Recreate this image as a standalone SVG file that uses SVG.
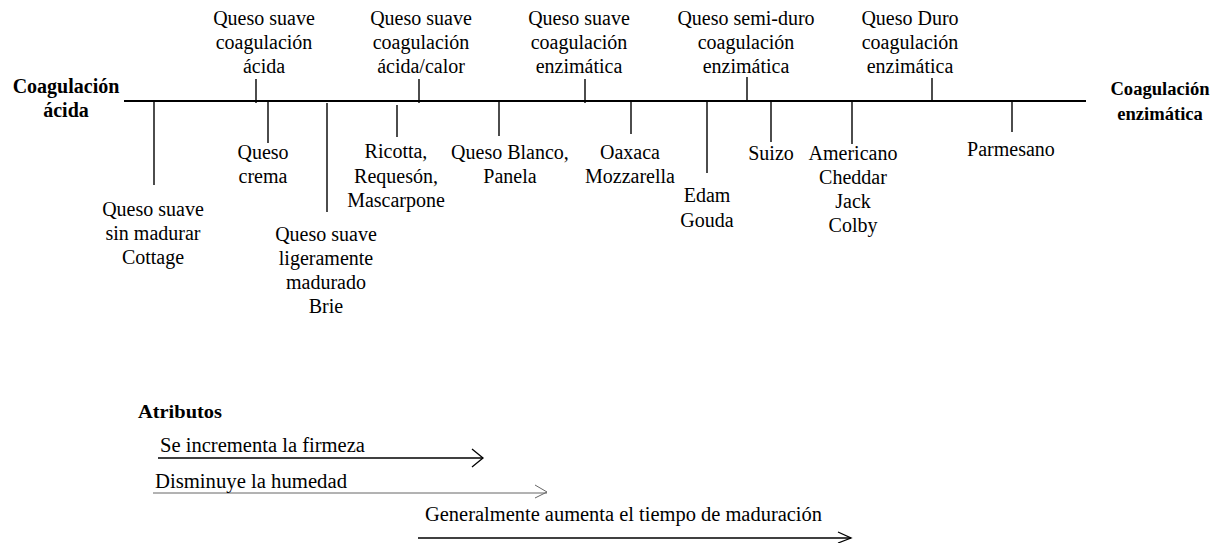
<svg xmlns="http://www.w3.org/2000/svg" width="1229" height="543" viewBox="0 0 1229 543">
<style>
  text { font-family: "Liberation Serif", "Times New Roman", serif; font-size: 20px; fill: #000; }
  .c { text-anchor: middle; }
  .b { font-weight: bold; }
  .axis { stroke: #000; stroke-width: 1.8; fill: none; }
  .tick { stroke: #000; stroke-width: 1.4; fill: none; }
  .arr { stroke: #000; stroke-width: 1.3; fill: none; }
  .arrg { stroke: #666; stroke-width: 1; fill: none; }
</style>
<rect width="1229" height="543" fill="#fff"/>
<g id="connectors">
  <line class="axis" x1="124" y1="101" x2="1086" y2="101"/>
  <line class="tick" x1="256" y1="79" x2="256" y2="103"/>
  <line class="tick" x1="419" y1="79" x2="419" y2="103"/>
  <line class="tick" x1="585" y1="79" x2="585" y2="103"/>
  <line class="tick" x1="747" y1="77" x2="747" y2="101"/>
  <line class="tick" x1="932" y1="78" x2="932" y2="101"/>
  <line class="tick" x1="154" y1="101" x2="154" y2="185"/>
  <line class="tick" x1="268" y1="101" x2="268" y2="143"/>
  <line class="tick" x1="327" y1="103" x2="327" y2="212"/>
  <line class="tick" x1="397" y1="105" x2="397" y2="137"/>
  <line class="tick" x1="499" y1="101" x2="499" y2="136"/>
  <line class="tick" x1="631" y1="101" x2="631" y2="134"/>
  <line class="tick" x1="707" y1="101" x2="707" y2="173"/>
  <line class="tick" x1="771" y1="101" x2="771" y2="142"/>
  <line class="tick" x1="852" y1="101" x2="852" y2="144"/>
  <line class="tick" x1="1012" y1="101" x2="1012" y2="132"/>
  <line class="arr" x1="158" y1="458" x2="483" y2="458"/>
  <polyline class="arr" points="472,449 483,458 472,467"/>
  <line class="arrg" x1="153" y1="493" x2="547" y2="493"/>
  <polyline class="arrg" points="535,485 547,492 535,498" stroke="#999"/>
  <line class="arr" x1="418" y1="538" x2="851" y2="538"/>
  <polyline class="arr" points="838,532 851,538 838,543"/>
</g>
<g id="left-end"><text class="c b" x="66" y="93">Coagulación</text><text class="c b" x="66" y="117">ácida</text></g>
<g id="right-end"><text class="c b" x="1160" y="95" style="font-size:18.6px">Coagulación</text><text class="c b" x="1160" y="120" style="font-size:18.6px">enzimática</text></g>
<g id="top-acida"><text class="c" x="264" y="25">Queso suave</text><text class="c" x="264" y="49">coagulación</text><text class="c" x="264" y="73">ácida</text></g>
<g id="top-acida-calor"><text class="c" x="421" y="25">Queso suave</text><text class="c" x="421" y="49">coagulación</text><text class="c" x="421" y="73">ácida/calor</text></g>
<g id="top-enzimatica"><text class="c" x="579" y="25">Queso suave</text><text class="c" x="579" y="49">coagulación</text><text class="c" x="579" y="73">enzimática</text></g>
<g id="top-semiduro"><text class="c" x="746" y="25">Queso semi-duro</text><text class="c" x="746" y="49">coagulación</text><text class="c" x="746" y="73">enzimática</text></g>
<g id="top-duro"><text class="c" x="910" y="25">Queso Duro</text><text class="c" x="910" y="49">coagulación</text><text class="c" x="910" y="73">enzimática</text></g>
<g id="cottage"><text class="c" x="153" y="216">Queso suave</text><text class="c" x="153" y="240">sin madurar</text><text class="c" x="153" y="264">Cottage</text></g>
<g id="crema"><text class="c" x="263" y="159">Queso</text><text class="c" x="263" y="183">crema</text></g>
<g id="brie"><text class="c" x="326" y="241">Queso suave</text><text class="c" x="326" y="265">ligeramente</text><text class="c" x="326" y="289">madurado</text><text class="c" x="326" y="313">Brie</text></g>
<g id="ricotta"><text class="c" x="396" y="158">Ricotta,</text><text class="c" x="396" y="183">Requesón,</text><text class="c" x="396" y="207">Mascarpone</text></g>
<g id="blanco"><text class="c" x="510" y="159">Queso Blanco,</text><text class="c" x="510" y="183">Panela</text></g>
<g id="oaxaca"><text class="c" x="630" y="159">Oaxaca</text><text class="c" x="630" y="183">Mozzarella</text></g>
<g id="edam"><text class="c" x="707" y="202">Edam</text><text class="c" x="707" y="227">Gouda</text></g>
<g id="suizo"><text class="c" x="771" y="160">Suizo</text></g>
<g id="americano"><text class="c" x="853" y="160">Americano</text><text class="c" x="853" y="184">Cheddar</text><text class="c" x="853" y="208">Jack</text><text class="c" x="853" y="232">Colby</text></g>
<g id="parmesano"><text class="c" x="1011" y="156">Parmesano</text></g>
<g id="atributos"><text class="b" x="138" y="418" style="font-size:19px" textLength="84" lengthAdjust="spacingAndGlyphs">Atributos</text></g>
<g id="firmeza"><text x="160" y="452" textLength="205" lengthAdjust="spacingAndGlyphs">Se incrementa la firmeza</text></g>
<g id="humedad"><text x="155" y="488" textLength="192" lengthAdjust="spacingAndGlyphs">Disminuye la humedad</text></g>
<g id="maduracion"><text x="425" y="521" textLength="397" lengthAdjust="spacingAndGlyphs">Generalmente aumenta el tiempo de maduración</text></g>
</svg>
